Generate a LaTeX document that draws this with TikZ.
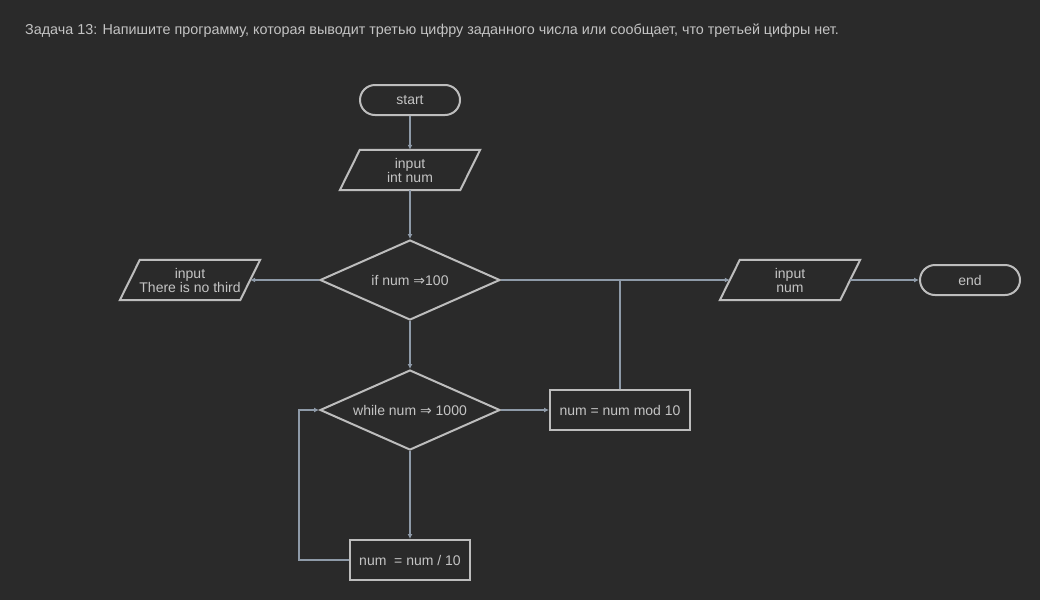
\documentclass[tikz,border=0pt]{standalone}
\usepackage{fontspec}
\setmainfont{Liberation Sans}
\newfontfamily\symfont{DejaVu Sans}
\usetikzlibrary{shapes.geometric,calc,arrows.meta}
\definecolor{bg}{HTML}{2A2A2A}
\definecolor{bord}{HTML}{BDBDBD}
\definecolor{conncol}{HTML}{8E9AA8}
\definecolor{txt}{HTML}{C4C4C4}
\tikzset{
  txtstyle/.style={text=txt,font=\fontsize{14}{14}\selectfont,align=center},
  term/.style={txtstyle,draw=bord,line width=2pt,rectangle,rounded corners=15pt,minimum width=100pt,minimum height=30pt,inner sep=0pt},
  procbox/.style={txtstyle,draw=bord,line width=2pt,rectangle,minimum height=40pt,inner sep=0pt},
  decision/.style={txtstyle,draw=bord,line width=2pt,diamond,minimum width=180pt,minimum height=80pt,inner sep=0pt,aspect=2.25},
  iobox/.style={txtstyle,rectangle,minimum width=120pt,minimum height=40pt,inner sep=0pt},
  iodraw/.style={draw=bord,line width=2pt,line join=miter},
  conn/.style={draw=conncol,line width=1.6pt,-{Latex[length=5pt,width=5pt]}},
  connplain/.style={draw=conncol,line width=1.6pt},
}
\newcommand{\iopath}[1]{\draw[iodraw] ($(#1.north west)+(10pt,0)$) -- ($(#1.north east)+(10pt,0)$) -- ($(#1.south east)-(10pt,0)$) -- ($(#1.south west)-(10pt,0)$) -- cycle;}
\begin{document}
\begin{tikzpicture}[x=1pt,y=-1pt]
\fill[bg] (0,0) rectangle (1040,600);
\useasboundingbox (0,0) rectangle (1040,600);
\node[txtstyle,font=\fontsize{14.35}{15}\selectfont,anchor=base west,inner sep=0pt] (title) at (25,34) {Задача 13: Напишите программу, которая выводит третью цифру заданного числа или сообщает, что третьей цифры нет.};
\node[term] (start) at (410,100) {start};
\node[iobox] (in1) at (410,170) {input\\int num};
\iopath{in1}
\node[decision] (d1) at (410,280) {if num {\symfont⇒}100};
\node[iobox] (in2) at (190,280) {input\\There is no third};
\iopath{in2}
\node[iobox] (in3) at (790,280) {input\\num};
\iopath{in3}
\node[term] (end) at (970,280) {end};
\node[decision] (d2) at (410,410) {while num {\symfont⇒} 1000};
\node[procbox,minimum width=140pt] (mod) at (620,410) {num = num mod 10};
\node[procbox,minimum width=120pt] (div) at (410,560) {num\ \ = num / 10};
\draw[conn] (start) -- (in1);
\draw[conn] (in1) -- (d1);
\draw[conn] (d1.west) -- (in2.east);
\draw[conn] (d1.east) -- (in3.west);
\draw[conn] (in3.east) -- (end.west);
\draw[conn] (d1.south) -- (d2.north);
\draw[conn] (d2.east) -- (mod.west);
\draw[connplain] (mod.north) -- (mod.north |- d1.east);
\draw[conn] (d2.south) -- (div.north);
\draw[conn] (div.west) -- ++(-50,0) |- (d2.west);
\end{tikzpicture}
\end{document}
